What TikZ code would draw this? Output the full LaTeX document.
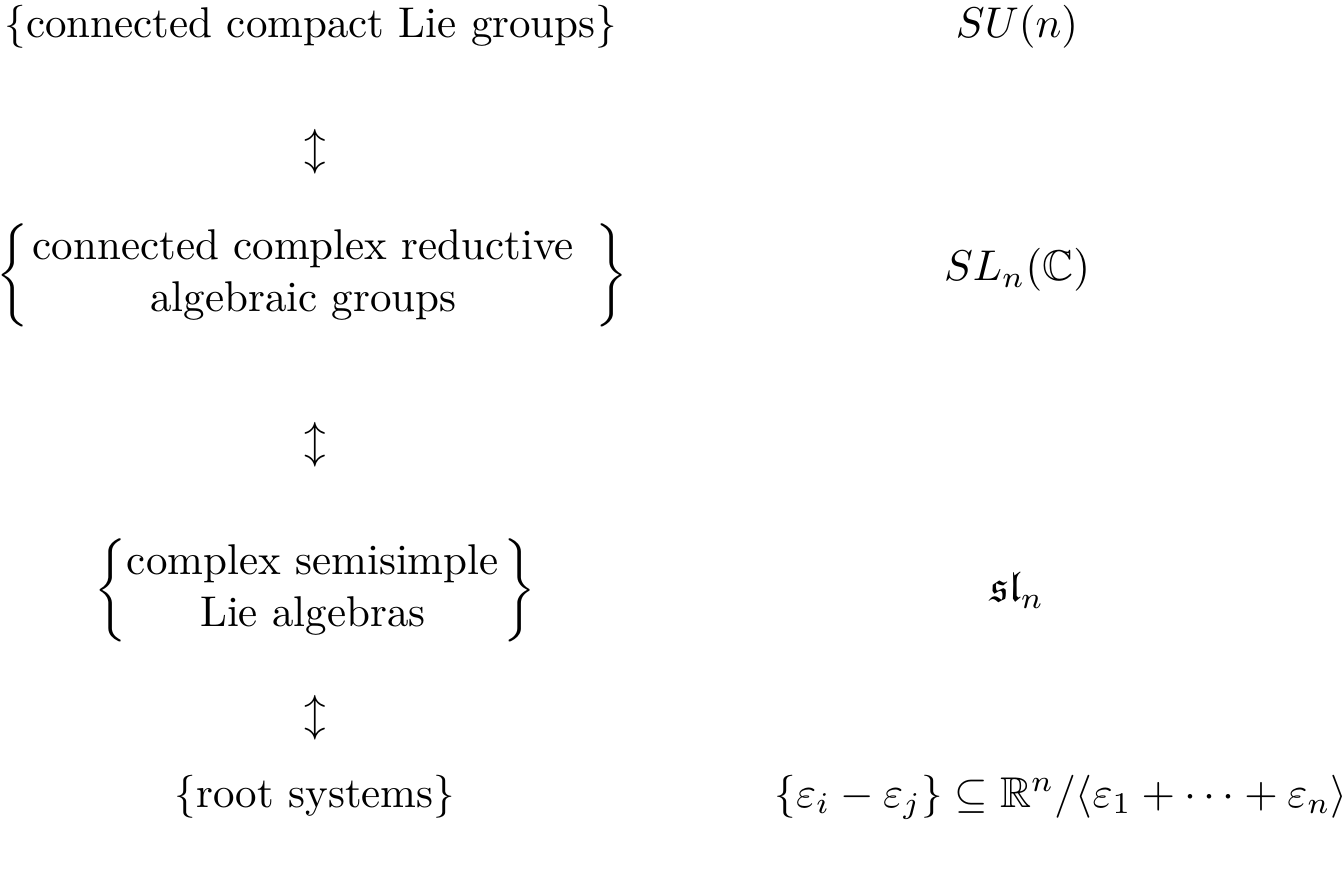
\documentclass[tikz,border=0pt]{standalone}
\usepackage{amsmath,amssymb}
\tikzset{x=0.2326pt,y=-0.2326pt,
  lbl/.style={inner sep=0pt,outer sep=0pt,anchor=center},
  arr/.style={inner sep=0pt,outer sep=0pt,anchor=center}}
\begin{document}
\begin{tikzpicture}
\useasboundingbox (0,0) rectangle (1344,874);
\node[lbl] (g1) at (311,27) {$\{\text{connected compact Lie groups}\}$};
\node[lbl] (e1) at (1017,27) {$SU(n)$};
\node[arr] (a1) at (315,152) {$\updownarrow$};
\node[lbl] (g2) at (312,275) {$\left\{\hspace{1pt}\begin{array}{@{}c@{}}\text{connected complex reductive}\\ \text{algebraic groups}\end{array}\hspace{5pt}\right\}$};
\node[lbl] (e2) at (1017,270) {$SL_n(\mathbb{C})$};
\node[arr] (a2) at (315,445) {$\updownarrow$};
\node[lbl] (g3) at (315,590) {$\left\{\begin{array}{@{}c@{}}\text{complex semisimple}\\ \text{Lie algebras}\end{array}\hspace{1pt}\right\}$};
\node[lbl] (e3) at (1017,590) {$\mathfrak{sl}_n$};
\node[arr] (a3) at (315,718) {$\updownarrow$};
\node[lbl] (g4) at (315,797) {$\{\text{root systems}\}$};
\node[lbl] (e4) at (1061,797) {$\{\varepsilon_i-\varepsilon_j\}\subseteq\mathbb{R}^n/\langle\varepsilon_1+\cdots+\varepsilon_n\rangle$};
\end{tikzpicture}
\end{document}
